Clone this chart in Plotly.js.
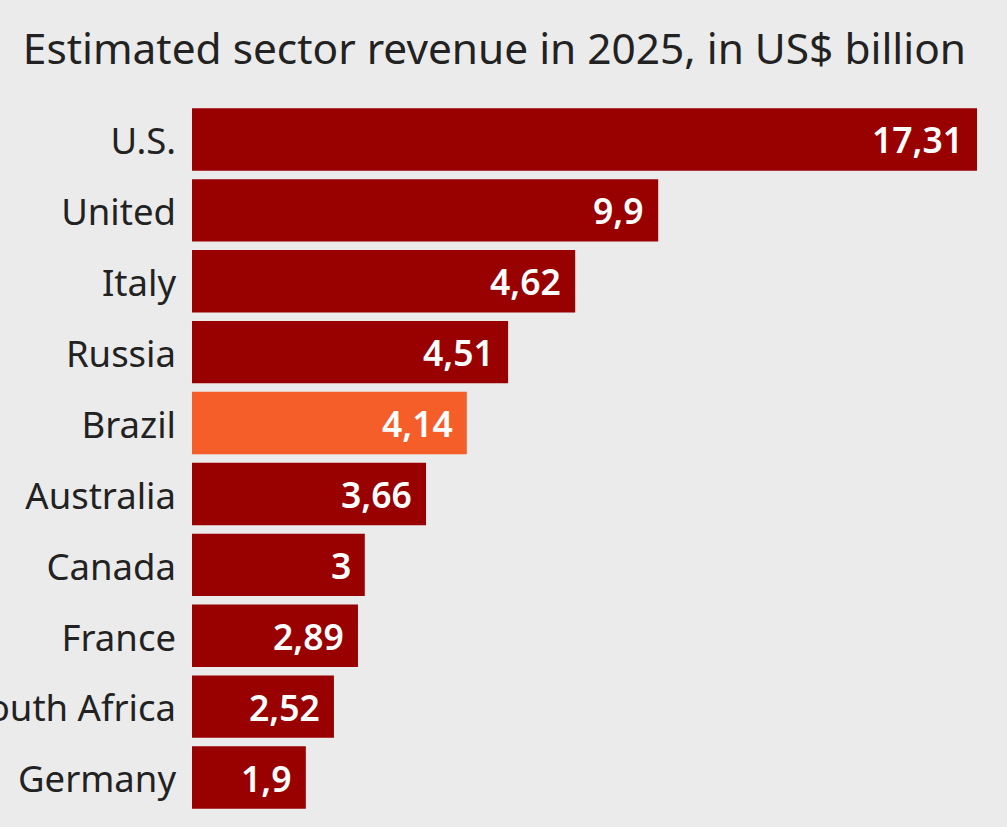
<!DOCTYPE html>
<html><head><meta charset="utf-8">
<script src="https://cdn.plot.ly/plotly-3.0.1.min.js"></script>
<style>html,body{margin:0;padding:0;background:#ebebeb}</style></head>
<body><div id="chart" style="width:1007px;height:827px"></div>
<script>
const countries = ["U.S.","United","Italy","Russia","Brazil","Australia","Canada","France","South Africa","Germany"];
// Bar lengths as drawn in the picture (the drawn lengths do not follow the printed labels)
const drawnLengths = [17.31,10.28,8.45,6.97,6.06,5.16,3.81,3.66,3.13,2.51];
const printedLabels = ["17,31","9,9","4,62","4,51","4,14","3,66","3","2,89","2,52","1,9"];
const barColors = ["#990000","#990000","#990000","#990000","#f55d29","#990000","#990000","#990000","#990000","#990000"];
const titleText = "Estimated sector revenue in 2025, in US$ billion";
const FONT = "'Noto Sans', sans-serif";
Plotly.newPlot("chart",[{
  type:"bar",orientation:"h",y:countries,x:drawnLengths,
  marker:{color:barColors,line:{width:0}},
  hoverinfo:"none",width:0.88,cliponaxis:false
}],{
  width:1007,height:827,
  paper_bgcolor:"#ebebeb",plot_bgcolor:"#ebebeb",
  margin:{l:192,r:30,t:104,b:14},
  showlegend:false,
  title:{text:titleText,font:{family:FONT,size:42.4,color:"#222222"},x:0.491,xanchor:"center",y:0.94,yanchor:"middle"},
  xaxis:{range:[0,17.31],visible:false,fixedrange:true},
  yaxis:{autorange:"reversed",ticks:"",showline:false,showgrid:false,zeroline:false,
    tickfont:{family:FONT,size:36.5,color:"#222222"},ticklabelstandoff:15,ticklabelshift:-2,automargin:false},
  annotations:printedLabels.map((t,i)=>({
    text:t,x:drawnLengths[i],y:countries[i],xref:"x",yref:"y",
    xanchor:"right",yanchor:"middle",xshift:-12,yshift:0,showarrow:false,
    font:{family:FONT,size:35.5,color:"#ffffff",weight:600}
  }))
},{displayModeBar:false,staticPlot:true});
</script></body></html>
